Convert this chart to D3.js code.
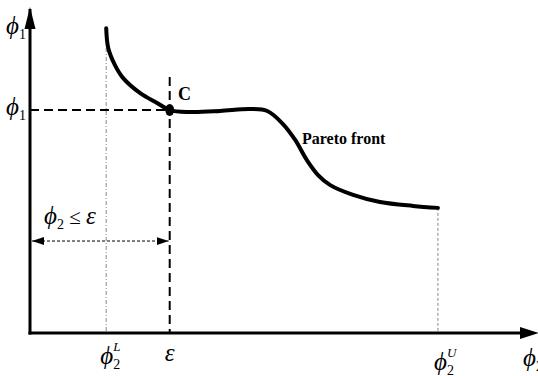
<!DOCTYPE html>
<html>
<head>
<meta charset="utf-8">
<script src="https://cdn.jsdelivr.net/npm/d3@7"></script>
<style>
  html, body { margin: 0; padding: 0; background: #fff; }
  svg { display: block; }
</style>
</head>
<body>
<svg id="chart" width="538" height="376"></svg>
<script>
// Pareto front in objective space (phi2 horizontal, phi1 vertical)
const frontPhi2 = [1.50, 1.54, 1.67, 1.83, 2.17, 2.50, 2.75, 3.15, 3.74, 4.33, 4.67, 4.98, 5.22, 5.45, 5.67, 5.91, 6.36, 6.89, 7.54, 8.03];
const frontPhi1 = [9.38, 8.77, 8.25, 7.85, 7.38, 7.08, 6.86, 6.80, 6.83, 6.89, 6.83, 6.43, 5.94, 5.32, 4.86, 4.55, 4.25, 4.03, 3.91, 3.85];

// Reference values on the phi2 axis
const phi2Lower = 1.50;
const epsilon = 2.75;
const phi2Upper = 8.03;
// Optimum C on the constraint phi2 = epsilon
const pointC = { phi2: 2.75, phi1: 6.86 };
// Level of the constraint-range arrow
const arrowLevel = 2.83;

const SERIF = "'Liberation Serif', 'Times New Roman', 'DejaVu Serif', serif";

const svg = d3.select("#chart");
const x = d3.scaleLinear().domain([0, 10]).range([30, 538]);
const y = d3.scaleLinear().domain([0, 10]).range([333, 8]);

const defs = svg.append("defs");
function marker(id, path) {
  defs.append("marker")
    .attr("id", id).attr("viewBox", "0 0 12 10")
    .attr("refX", id.endsWith("start") ? 0 : 12).attr("refY", 5)
    .attr("markerWidth", 12).attr("markerHeight", 10)
    .attr("markerUnits", "userSpaceOnUse").attr("orient", "auto")
    .append("path").attr("d", path).attr("fill", "#000");
}
marker("arr-end", "M0,1 L12,5 L0,9 Z");
marker("arr-start", "M12,1 L0,5 L12,9 Z");

// Thin dotted guides at the ends of the front
svg.append("line")
  .attr("x1", x(phi2Lower)).attr("x2", x(phi2Lower))
  .attr("y1", 48).attr("y2", y(0))
  .attr("stroke", "#888").attr("stroke-width", 1)
  .attr("stroke-dasharray", "4,2,1,2");
svg.append("line")
  .attr("x1", x(phi2Upper)).attr("x2", x(phi2Upper))
  .attr("y1", y(frontPhi1[frontPhi1.length - 1])).attr("y2", y(0))
  .attr("stroke", "#888").attr("stroke-width", 1)
  .attr("stroke-dasharray", "3,2");

// Dashed projection of C onto the phi1 axis and the epsilon constraint
svg.append("line")
  .attr("x1", x(0)).attr("x2", x(pointC.phi2))
  .attr("y1", y(pointC.phi1)).attr("y2", y(pointC.phi1))
  .attr("stroke", "#000").attr("stroke-width", 2)
  .attr("stroke-dasharray", "9,5");
svg.append("line")
  .attr("x1", x(epsilon)).attr("x2", x(epsilon))
  .attr("y1", 77).attr("y2", y(0))
  .attr("stroke", "#000").attr("stroke-width", 2)
  .attr("stroke-dasharray", "9,5");

// Range phi2 <= epsilon
svg.append("line")
  .attr("x1", x(0) + 2).attr("x2", x(epsilon) - 1)
  .attr("y1", y(arrowLevel)).attr("y2", y(arrowLevel))
  .attr("stroke", "#000").attr("stroke-width", 1)
  .attr("stroke-dasharray", "3,2")
  .attr("marker-start", "url(#arr-start)")
  .attr("marker-end", "url(#arr-end)");

// Axes
svg.append("line")
  .attr("x1", x(0)).attr("x2", x(0))
  .attr("y1", y(0) + 1.5).attr("y2", 9)
  .attr("stroke", "#000").attr("stroke-width", 3);
svg.append("path")
  .attr("d", `M${x(0) - 5.5},29 L${x(0)},7 L${x(0) + 5.5},29 Z`).attr("fill", "#000");
svg.append("line")
  .attr("x1", x(0) - 1.5).attr("x2", 530)
  .attr("y1", y(0)).attr("y2", y(0))
  .attr("stroke", "#000").attr("stroke-width", 3);
svg.append("path")
  .attr("d", `M520,${y(0) - 6} L539,${y(0)} L520,${y(0) + 6} Z`).attr("fill", "#000");

// Pareto front
const front = frontPhi2.map((v, i) => [v, frontPhi1[i]]);
svg.append("path")
  .datum(front)
  .attr("fill", "none").attr("stroke", "#000")
  .attr("stroke-width", 4).attr("stroke-linecap", "round")
  .attr("d", d3.line().x(d => x(d[0])).y(d => y(d[1])).curve(d3.curveCatmullRom.alpha(0.5)));

svg.append("ellipse")
  .attr("cx", x(pointC.phi2)).attr("cy", y(pointC.phi1))
  .attr("rx", 4.5).attr("ry", 6).attr("fill", "#000");

// Text labels
function phi(xPos, yPos, sub, sup) {
  const t = svg.append("text")
    .attr("font-family", SERIF).attr("font-style", "italic")
    .attr("x", xPos).attr("y", yPos).attr("font-size", 25).attr("fill", "#000");
  t.append("tspan").text("ϕ");
  if (sub) t.append("tspan").attr("font-size", 14).attr("font-style", "normal").attr("dy", 5).text(sub);
  if (sup) t.append("tspan").attr("font-size", 13).attr("dy", -18).attr("dx", -7).text(sup);
  return t;
}
phi(6, 34, "1");
phi(6, 115, "1");
phi(x(phi2Lower) - 6, 364, "2", "L");
phi(x(phi2Upper) - 4, 370, "2", "U");
phi(523, 366, "2");

svg.append("text")
  .attr("font-family", SERIF).attr("font-style", "italic")
  .attr("x", x(epsilon)).attr("y", 361).attr("text-anchor", "middle")
  .attr("font-size", 25).text("ε");

const rangeLabel = phi(44, 224, "2");
rangeLabel.append("tspan").attr("dy", -5).attr("font-style", "normal").attr("font-size", 21).text(" ≤ ");
rangeLabel.append("tspan").attr("font-size", 25).text("ε");

svg.append("text")
  .attr("font-family", SERIF).attr("font-weight", "bold")
  .attr("x", 178).attr("y", 100).attr("font-size", 18).text("C");
svg.append("text")
  .attr("font-family", SERIF).attr("font-weight", "bold")
  .attr("x", 302).attr("y", 144).attr("font-size", 16).text("Pareto front");
</script>
</body>
</html>
